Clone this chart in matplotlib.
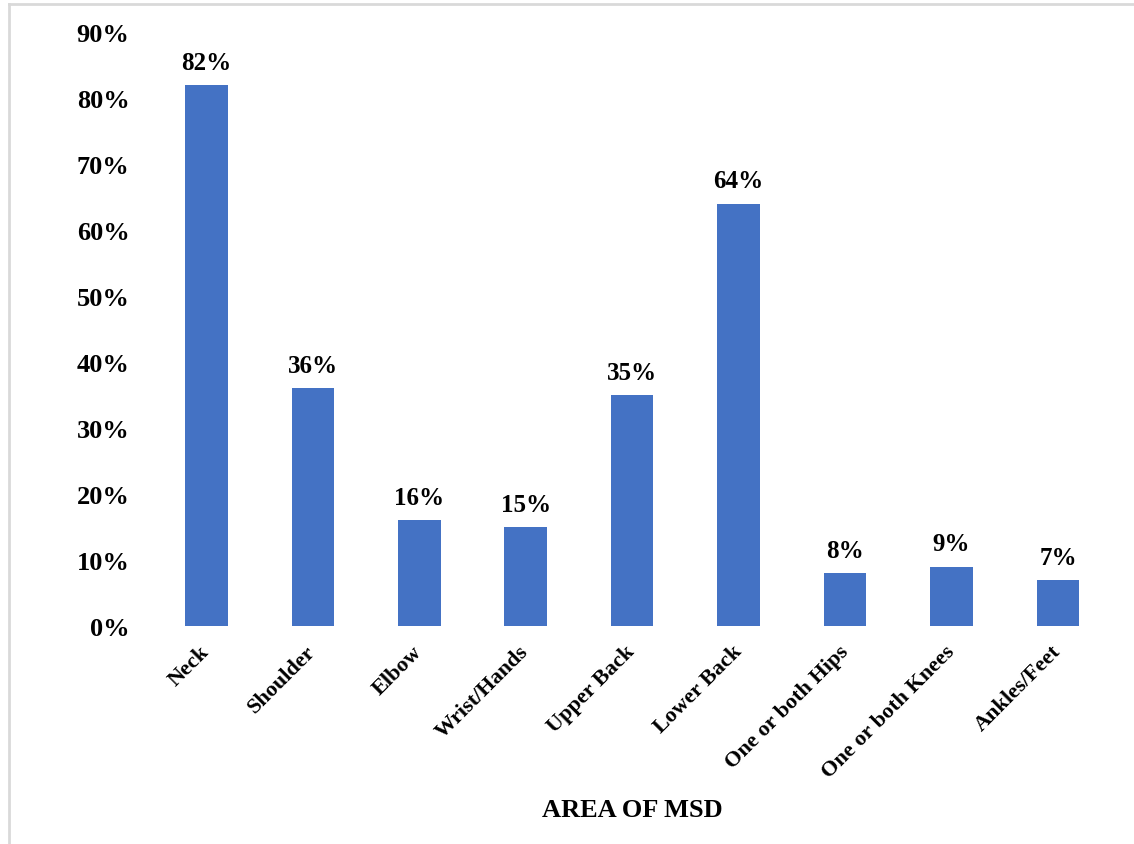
import matplotlib
matplotlib.use("Agg")
import matplotlib.pyplot as plt
from matplotlib.lines import Line2D

areas = ["Neck", "Shoulder", "Elbow", "Wrist/Hands", "Upper Back",
         "Lower Back", "One or both Hips", "One or both Knees", "Ankles/Feet"]
pct = [82, 36, 16, 15, 35, 64, 8, 9, 7]
yticks = [0, 10, 20, 30, 40, 50, 60, 70, 80, 90]

plt.rcParams["font.family"] = ["Liberation Serif", "DejaVu Serif"]
plt.rcParams["font.weight"] = "bold"

fig = plt.figure(figsize=(11.34, 8.45), dpi=100)
ax = fig.add_axes([0.135, 0.258, 0.845, 0.703])

xs = range(len(areas))
ax.bar(xs, pct, width=0.40, color="#4472C4")
for x, v in zip(xs, pct):
    ax.annotate(f"{v}%", (x, v), xytext=(0, 8), textcoords="offset points",
                ha="center", va="bottom", fontsize=18, fontweight="bold")

ax.set_xlim(-0.5, len(areas) - 0.5)
ax.set_ylim(0, 90)
ax.set_yticks(yticks, [f"{t}%" for t in yticks], fontsize=19, fontweight="bold")
ax.set_xticks(list(xs))
ax.set_xticklabels(areas, rotation=45, ha="right", va="center",
                   rotation_mode="anchor", fontsize=16, fontweight="bold")
ax.tick_params(axis="y", length=0, pad=17)
ax.tick_params(axis="x", length=0, pad=16)
for s in ax.spines.values():
    s.set_visible(False)
ax.set_xlabel("AREA OF MSD", fontsize=19, fontweight="bold", labelpad=12)

# light frame on the left and top edges
fig.add_artist(Line2D([0.008, 0.008], [0, 0.994], transform=fig.transFigure,
                      color="#d9d9d9", lw=2))
fig.add_artist(Line2D([0.008, 1], [0.994, 0.994], transform=fig.transFigure,
                      color="#d9d9d9", lw=2))

fig.savefig("out.png", dpi=100)
